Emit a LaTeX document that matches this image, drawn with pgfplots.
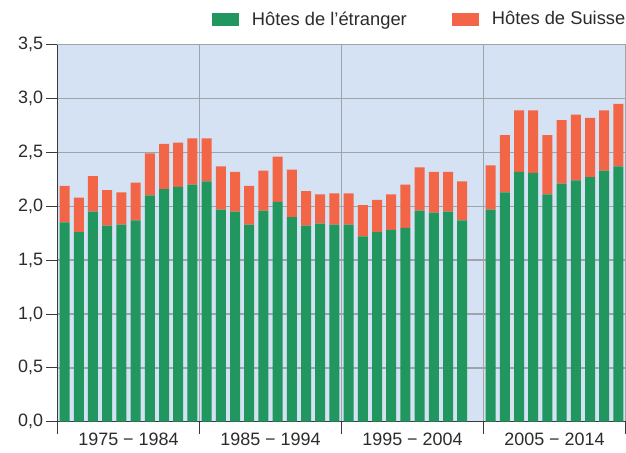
\documentclass[border=0pt]{standalone}
\usepackage{fontspec}
\setmainfont{Liberation Sans}
\usepackage{pgfplots}
\usepackage{pgfplotstable}
\pgfplotsset{compat=1.18}
\usetikzlibrary{calc}
\definecolor{hgreen}{HTML}{21965F}
\definecolor{horange}{HTML}{F26647}
\definecolor{bgblue}{HTML}{D4E2F3}
\definecolor{gridgray}{HTML}{A0A3A7}
\definecolor{axisdark}{HTML}{3A3A3A}
\definecolor{txt}{HTML}{2B2B2B}

% nuitees par arrivee (annees, hotes etrangers, hotes suisses)
\pgfplotstableread{
year foreign swiss
1975 1.85 0.34
1976 1.76 0.32
1977 1.95 0.33
1978 1.82 0.33
1979 1.83 0.30
1980 1.87 0.35
1981 2.10 0.39
1982 2.16 0.42
1983 2.18 0.41
1984 2.20 0.43
1985 2.23 0.40
1986 1.97 0.40
1987 1.95 0.37
1988 1.83 0.36
1989 1.96 0.37
1990 2.04 0.42
1991 1.90 0.44
1992 1.82 0.32
1993 1.84 0.27
1994 1.83 0.29
1995 1.83 0.29
1996 1.72 0.29
1997 1.76 0.30
1998 1.78 0.33
1999 1.80 0.40
2000 1.96 0.40
2001 1.94 0.38
2002 1.95 0.37
2003 1.87 0.36
2005 1.97 0.41
2006 2.13 0.53
2007 2.32 0.57
2008 2.31 0.58
2009 2.11 0.55
2010 2.21 0.59
2011 2.24 0.61
2012 2.27 0.55
2013 2.33 0.56
2014 2.37 0.58
}\nights

\begin{document}
\begin{tikzpicture}
\begin{axis}[
  scale only axis,
  width=568bp, height=377bp,
  ybar stacked,
  bar width=10bp,
  xmin=-0.5, xmax=39.5,
  ymin=0, ymax=3.5,
  axis background/.style={fill=bgblue},
  axis x line*=bottom,
  axis y line*=left,
  axis line style={axisdark, line width=1.1bp},
  tick align=outside,
  tick style={axisdark, line width=0.9bp},
  major tick length=11bp,
  minor tick length=12bp,
  xtick={4.5,14.5,24.5,34.5},
  xticklabels={1975 − 1984, 1985 − 1994, 1995 − 2004, 2005 − 2014},
  major x tick style={draw=none},
  minor xtick={-0.5,9.5,19.5,29.5,39.5},
  xminorgrids=true,
  ymajorgrids=true,
  minor grid style={gridgray, line width=1.4bp},
  major grid style={gridgray, line width=1.4bp},
  ytick={0,0.5,...,3.5},
  yticklabel style={/pgf/number format/.cd, fixed, fixed zerofill, precision=1, use comma, assume math mode=true},
  ticklabel style={font=\fontsize{18}{20}\selectfont, text=txt},
  xticklabel style={yshift=3bp},
  legend columns=2,
  legend style={draw=none, fill=none, at={(1,1)}, anchor=south east, yshift=14bp, xshift=5bp,
    font=\fontsize{18.4}{20}\selectfont, text=txt,
    /tikz/every odd column/.append style={column sep=11bp},
    /tikz/every even column/.append style={column sep=43bp}},
  legend image code/.code={\fill[#1] (0bp,-6.5bp) rectangle (27bp,6.5bp);},
]
\addplot[fill=hgreen, draw=none] table[x expr=\thisrow{year}-1975, y=foreign] {\nights};
\addplot[fill=horange, draw=none] table[x expr=\thisrow{year}-1975, y=swiss] {\nights};
\legend{Hôtes de l’étranger, Hôtes de Suisse}
\end{axis}
\pgfresetboundingbox
\path[use as bounding box] ($(current axis.south west)+(-57.5bp,-31.3bp)$) rectangle ($(current axis.north east)+(0.5bp,44.7bp)$);
\end{tikzpicture}
\end{document}
